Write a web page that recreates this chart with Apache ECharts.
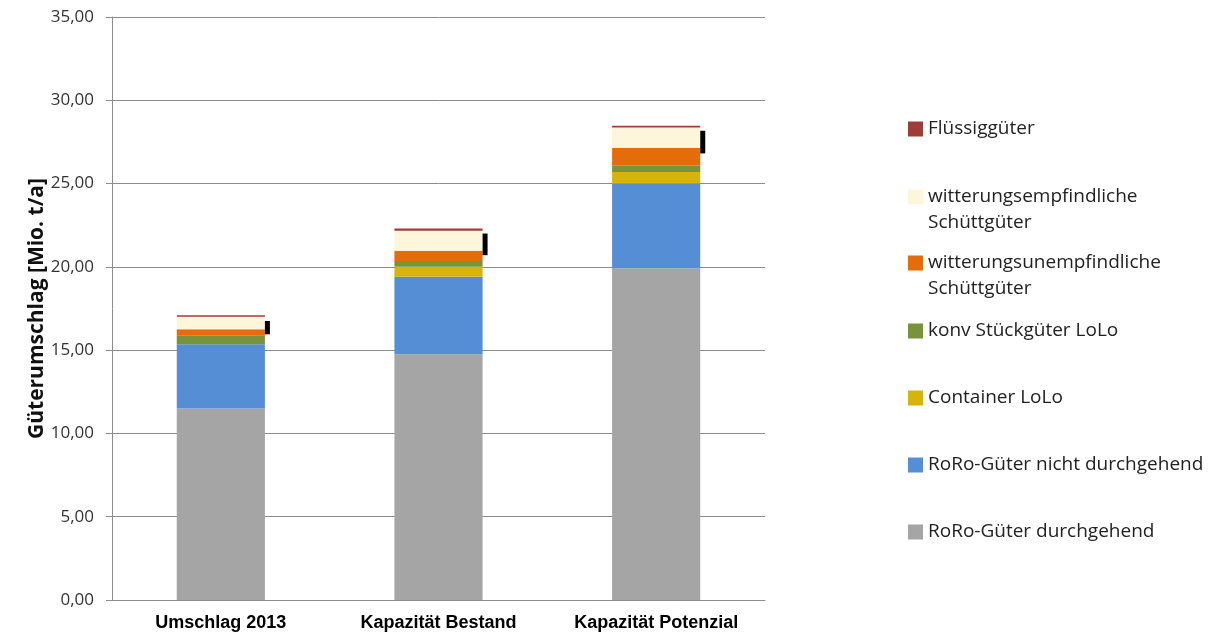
<!DOCTYPE html>
<html>
<head>
<meta charset="utf-8">
<script src="https://cdn.jsdelivr.net/npm/echarts@6/dist/echarts.min.js"></script>
<style>
  html, body { margin: 0; padding: 0; background: #fff; }
  #chart { width: 1213px; height: 635px; }
</style>
</head>
<body>
<div id="chart"></div>
<script>
const categories = ['Umschlag 2013', 'Kapazität Bestand', 'Kapazität Potenzial'];
const yTicks = [0, 5, 10, 15, 20, 25, 30, 35];

// stacked from bottom to top
const roroDurch = [11.5, 14.75, 19.92];
const roroNicht = [3.85, 4.66, 5.09];
const containerLoLo = [0, 0.59, 0.68];
const konvLoLo = [0.55, 0.35, 0.38];
const unempfindlich = [0.35, 0.62, 1.08];
const empfindlich = [0.75, 1.2, 1.22];
const fluessig = [0.1, 0.14, 0.1];

// black markers next to each bar: [category, low, high]
const markers = [[0, 15.95, 16.75], [1, 20.7, 22.0], [2, 26.81, 28.17]];

const seriesDefs = [
    { name: 'RoRo-Güter durchgehend', data: roroDurch, color: '#a5a5a5' },
    { name: 'RoRo-Güter nicht durchgehend', data: roroNicht, color: '#558ed5' },
    { name: 'Container LoLo', data: containerLoLo, color: '#d6b40c' },
    { name: 'konv Stückgüter LoLo', data: konvLoLo, color: '#77933c' },
    { name: 'witterungsunempfindliche Schüttgüter', data: unempfindlich, color: '#e46c0a' },
    { name: 'witterungsempfindliche Schüttgüter', data: empfindlich, color: '#fef6da' },
    { name: 'Flüssiggüter', data: fluessig, color: '#a03c38' }
];

// leading empty line keeps the icon level with the first text line
const legendLabels = {
    'witterungsunempfindliche Schüttgüter': '\nwitterungsunempfindliche\nSchüttgüter',
    'witterungsempfindliche Schüttgüter': '\nwitterungsempfindliche\nSchüttgüter'
};

// y of the icon centre for each legend entry (same order as seriesDefs)
const legendCenters = [532, 465, 398, 331, 263, 197, 129];
const lineH = 26;
const barWidthPct = 0.405;

const chart = echarts.init(document.getElementById('chart'));

const series = seriesDefs.map(s => ({
    name: s.name,
    type: 'bar',
    stack: 'total',
    barWidth: (barWidthPct * 100) + '%',
    itemStyle: { color: s.color },
    data: s.data
}));

series.push({
    name: 'marker',
    type: 'custom',
    silent: true,
    renderItem(params, api) {
        const top = api.coord([api.value(0), api.value(2)]);
        const bottom = api.coord([api.value(0), api.value(1)]);
        const band = api.size([1, 0])[0];
        return {
            type: 'rect',
            shape: {
                x: top[0] + band * barWidthPct / 2,
                y: top[1],
                width: 5,
                height: bottom[1] - top[1]
            },
            style: { fill: '#000' }
        };
    },
    encode: { x: 0, y: [1, 2] },
    data: markers,
    z: 5
});

const legends = seriesDefs.map((s, i) => {
    const lines = legendLabels[s.name] ? 3 : 1;
    return {
        left: 908,
        top: legendCenters[i] - lines * lineH / 2,
        padding: 0,
        orient: 'vertical',
        itemWidth: 15,
        itemHeight: 15,
        itemGap: 0,
        selectedMode: false,
        icon: 'rect',
        data: [s.name],
        formatter: name => legendLabels[name] || name,
        textStyle: {
            fontFamily: 'Open Sans',
            fontSize: 19,
            color: '#222',
            lineHeight: lineH
        }
    };
});

const option = {
    animation: false,
    backgroundColor: '#fff',
    grid: { left: 112, right: 448, top: 17, bottom: 35 },
    legend: legends,
    xAxis: {
        type: 'category',
        data: categories,
        axisLine: { lineStyle: { color: '#8c8c8c', width: 1 } },
        axisTick: { alignWithLabel: true, length: 4, lineStyle: { color: '#8c8c8c' } },
        axisLabel: {
            margin: 14,
            fontFamily: 'Liberation Sans',
            fontWeight: 'bold',
            fontSize: 18,
            color: '#000'
        }
    },
    yAxis: {
        type: 'value',
        min: yTicks[0],
        max: yTicks[yTicks.length - 1],
        interval: 5,
        name: 'Güterumschlag [Mio. t/a]',
        nameLocation: 'middle',
        nameGap: 64,
        nameMoveOverlap: false,
        nameTextStyle: {
            fontFamily: 'Open Sans',
            fontWeight: 'bold',
            fontSize: 21,
            color: '#111'
        },
        axisLine: { show: true, lineStyle: { color: '#8c8c8c' } },
        axisTick: { show: true, length: 6, lineStyle: { color: '#8c8c8c' } },
        splitLine: { lineStyle: { color: '#8c8c8c' } },
        axisLabel: {
            margin: 18,
            fontFamily: 'Open Sans',
            fontSize: 17,
            color: '#333',
            formatter: v => v.toFixed(2).replace('.', ',')
        }
    },
    series: series
};

chart.setOption(option);
</script>
</body>
</html>
